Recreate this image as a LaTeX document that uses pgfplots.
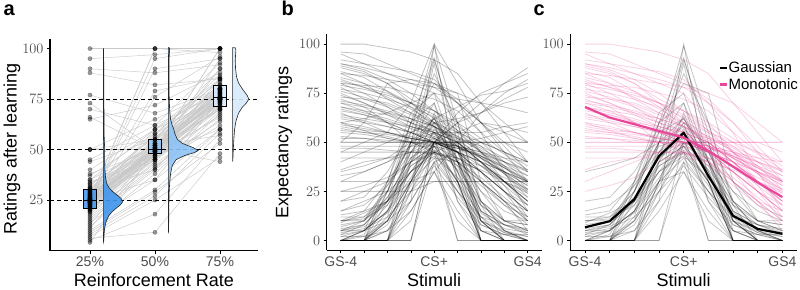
\documentclass[border=0pt]{standalone}
\usepackage{fontspec}
\setmainfont{Liberation Sans}
\usepackage{pgfplots}
\usepackage{pgfplotstable}
\pgfplotsset{compat=1.18}

\definecolor{rateA}{HTML}{3F95EB}
\definecolor{rateB}{HTML}{8CC2F5}
\definecolor{rateC}{HTML}{D6EAFC}
\definecolor{ticktext}{HTML}{4D4D4D}
\definecolor{mono}{HTML}{E8479A}
\definecolor{pairline}{HTML}{C9C9C9}

% ratings after learning, one row per participant
\pgfplotstableread{
r25 r50 r75
25 50 75
24 50 75
26 49 76
20 45 70
30 55 80
22 48 74
28 52 78
25 51 77
18 44 72
32 56 82
15 40 65
35 60 85
12 38 68
27 50 90
23 47 95
25 50 100
10 30 60
8 27 58
5 18 55
6 9 48
100 100 100
95 97 100
90 88 92
88 82 85
77 68 80
73 50 75
70 62 78
66 50 70
65 72 88
50 50 75
50 65 80
50 55 90
44 55 85
40 60 80
38 50 76
34 45 74
33 53 79
31 52 73
29 49 71
21 46 67
19 43 64
17 42 62
14 35 60
13 50 75
11 48 70
9 29 53
7 25 46
25 100 100
24 90 95
26 79 86
22 76 96
28 50 44
30 40 75
20 50 80
25 35 75
23 53 77
27 47 73
26 51 83
24 49 79
21 50 76
29 54 81
31 57 87
16 41 69
25 60 75
25 45 75
20 48 66
30 50 72
35 52 78
37 58 84
45 62 93
4 50 75
24 95 100
26 100 98
23 50 100
27 48 60
22 52 57
28 46 85
24 51 74
25 49 76
26 50 79
21 47 71
29 53 80
23 52 77
27 48 73
25 55 75
24 45 82
26 58 75
19 50 75
31 50 75
33 50 70
22 50 78
28 49 80
25 50 74
24 51 76
}\ratings

% generalization profiles GS-4 ... CS+ ... GS4, one row per participant
\pgfplotstableread{
g0 g1 g2 g3 g4 g5 g6 g7 g8
0 0 0 30 50 30 0 0 0
0 0 10 40 60 20 0 0 0
5 8 20 45 55 35 10 5 2
10 12 25 50 70 40 15 8 5
0 0 0 20 100 30 0 0 0
0 5 15 35 45 25 10 0 0
13 15 30 48 52 45 20 10 8
0 0 20 60 93 50 10 0 0
2 5 18 40 48 30 8 3 0
8 10 22 42 50 38 15 8 4
0 0 0 0 40 0 0 0 0
0 0 10 30 35 15 0 0 0
20 22 35 55 62 45 25 15 10
0 3 25 55 99 60 20 5 0
5 5 15 38 45 28 5 0 0
0 0 5 25 50 50 5 0 0
10 10 25 60 80 75 30 10 5
3 8 20 35 52 20 5 3 3
0 0 0 40 90 40 0 0 0
35 38 42 50 58 40 25 10 5
0 0 15 45 63 32 12 0 0
7 10 28 50 55 40 18 8 3
0 0 30 60 70 30 0 0 0
12 12 20 40 48 36 20 10 8
0 2 10 30 42 25 12 4 0
6 8 22 42 53 35 14 6 4
0 0 0 50 92 55 10 0 0
4 6 12 25 38 22 8 3 0
0 5 30 65 75 40 15 5 0
9 14 20 38 46 30 12 8 6
0 0 0 0 50 50 0 0 0
0 0 0 25 45 0 0 0 0
2 2 5 20 40 25 5 0 0
0 0 12 50 85 60 18 0 0
15 18 28 45 60 48 30 18 12
0 0 0 30 65 35 0 0 0
3 5 15 32 50 45 20 5 0
0 0 8 28 48 30 0 0 0
10 11 18 35 43 32 18 10 10
0 0 25 50 62 40 10 0 0
5 7 14 30 57 42 10 4 2
0 0 0 15 35 10 0 0 0
}\gaussraw

\pgfplotstableread{
g0 g1 g2 g3 g4 g5 g6 g7 g8
100 100 98 96 92 85 70 55 40
95 90 85 80 75 60 45 30 20
90 88 85 82 78 70 60 48 35
88 85 80 70 60 50 40 30 20
85 80 72 65 58 50 40 25 10
82 78 75 70 62 52 42 30 22
80 75 68 60 55 45 30 20 10
78 72 70 65 60 55 50 45 40
75 70 65 60 52 45 35 25 15
73 72 68 62 55 50 40 30 20
72 68 60 55 50 45 35 20 5
70 68 65 62 58 52 48 42 35
68 65 62 58 55 50 42 35 28
66 64 60 55 50 48 40 30 18
65 60 58 55 50 45 40 35 30
62 60 55 52 50 48 45 40 35
60 58 55 52 50 50 50 50 50
58 56 55 52 50 45 38 30 25
55 54 52 50 50 48 45 42 40
52 52 50 50 50 50 50 50 50
50 50 50 50 50 45 40 35 30
50 50 50 50 50 50 50 50 45
48 48 48 48 48 45 40 30 20
45 45 45 45 45 42 35 25 15
36 40 42 45 45 40 30 20 10
30 35 40 45 50 45 35 25 15
25 28 32 40 45 38 28 18 8
85 84 82 80 78 75 70 60 50
92 90 88 86 82 70 55 35 15
77 75 72 68 63 55 45 35 25
70 66 60 50 45 40 30 20 15
64 62 60 58 55 50 40 28 12
57 55 53 50 48 42 35 25 18
80 79 78 75 72 66 55 45 38
86 83 76 68 58 48 38 28 18
60 56 52 50 46 40 32 22 12
74 70 64 58 54 48 42 34 26
68 66 64 60 56 52 46 38 30
96 95 90 85 80 72 60 45 30
89 86 80 72 66 58 50 40 30
83 80 76 70 64 56 48 38 26
79 77 74 70 66 60 52 44 36
71 69 66 62 58 53 47 40 33
63 61 58 55 52 48 43 37 30
56 55 54 52 50 47 43 38 33
53 52 51 50 49 47 44 40 36
47 47 46 45 44 42 38 32 26
42 42 42 42 42 40 36 30 24
90 87 82 75 66 56 45 34 22
76 73 69 64 58 51 43 34 24
67 64 61 57 53 48 42 35 28
81 78 73 67 60 53 45 37 29
59 57 55 53 50 47 43 37 31
}\monoraw

\pgfplotstableread{
g0 g1 g2 g3 g4 g5 g6 g7 g8
0 0 0 10 50 60 70 80 88
30 30 30 30 30 30 30 30 30
10 15 20 30 50 60 65 75 82
40 45 50 55 60 62 65 70 73
5 10 20 35 50 55 60 55 50
0 0 10 30 50 65 75 80 85
20 25 30 40 55 55 55 58 60
0 0 0 0 50 50 50 50 50
50 60 80 82 80 70 60 58 55
45 50 55 70 100 80 60 50 40
0 0 5 15 35 50 65 72 78
25 25 25 25 30 30 30 30 30
60 62 65 70 75 72 70 68 65
15 20 25 35 45 50 52 55 58
0 5 10 20 40 45 50 45 40
33 35 40 48 62 68 74 76 80
}\otherraw

\pgfplotstabletranspose\gausst{\gaussraw}
\pgfplotstabletranspose\monot{\monoraw}
\pgfplotstabletranspose\othert{\otherraw}

\pgfplotsset{
  panel/.style={
    scale only axis,
    anchor=south west,
    axis lines=left,
    axis line style={-, line width=1.1pt, black},
    tick style={line width=0.6pt, black},
    tick align=outside,
    major tick length=3pt,
    tick label style={font=\fontsize{14}{16}\selectfont, text=ticktext},
    label style={font=\fontsize{18}{20}\selectfont},
    clip=false,
  },
  stimpanel/.style={
    panel,
    xmin=-0.6, xmax=8.6, ymin=-5, ymax=105,
    xtick={0,...,8},
    xticklabels={GS-4,,,,CS+,,,,GS4},
    ytick={0,25,50,75,100},
    xlabel={Stimuli},
  },
  dot/.style={only marks, mark=*, mark size=2.1pt,
    mark options={fill=black, draw=none}, opacity=0.38},
  refline/.style={black, line width=0.8pt, dash pattern=on 4pt off 3pt},
  boxshape/.style={draw=black, line width=0.7pt, fill opacity=0.85},
  violin/.style={draw=black!85, line width=0.6pt, fill opacity=0.9},
}

\begin{document}
\begin{tikzpicture}[x=1pt,y=1pt]
\useasboundingbox (0,0) rectangle (800,289);

% ---------------- a: ratings by reinforcement rate ----------------
\begin{axis}[panel,
  at={(50pt,38.5pt)}, width=208pt, height=211pt,
  xmin=0.385, xmax=3.585, ymin=0, ymax=104.5,
  xtick={1,2,3}, xticklabels={25\%,50\%,75\%},
  ytick={25,50,75,100},
  xlabel={Reinforcement Rate},
  ylabel={Ratings after learning},
  ylabel style={at={(axis description cs:-0.183,0.48)}, anchor=center}]

\addplot[pairline, line width=0.45pt,
  quiver={u=1, v=\thisrow{r50}-\thisrow{r25}}]
  table[x expr=1, y=r25] {\ratings};
\addplot[pairline, line width=0.45pt,
  quiver={u=1, v=\thisrow{r75}-\thisrow{r50}}]
  table[x expr=2, y=r50] {\ratings};

\addplot[dot] table[x expr=1, y=r25] {\ratings};
\addplot[dot] table[x expr=2, y=r50] {\ratings};
\addplot[dot] table[x expr=3, y=r75] {\ratings};

% reference levels
\addplot[refline] coordinates {(0.385,25) (3.585,25)};
\addplot[refline] coordinates {(0.385,50) (3.585,50)};
\addplot[refline] coordinates {(0.385,75) (3.585,75)};

% interquartile boxes and medians
\addplot[boxshape, fill=rateA] coordinates {(0.895,21) (1.105,21) (1.105,30.5) (0.895,30.5)} -- cycle;
\addplot[black, line width=1pt] coordinates {(0.895,25) (1.105,25)};
\addplot[boxshape, fill=rateB] coordinates {(1.895,48) (2.105,48) (2.105,55) (1.895,55)} -- cycle;
\addplot[black, line width=1pt] coordinates {(1.895,50) (2.105,50)};
\addplot[boxshape, fill=rateC] coordinates {(2.895,71.5) (3.105,71.5) (3.105,82) (2.895,82)} -- cycle;
\addplot[black, line width=1pt] coordinates {(2.895,76) (3.105,76)};

% half violins
\addplot[violin, fill=rateA] coordinates {
(1.205,4) (1.213,5) (1.217,8) (1.225,11) (1.245,14) (1.285,17) (1.335,19)
(1.405,21) (1.465,22.5) (1.500,24) (1.485,25.5) (1.435,27) (1.355,29)
(1.295,31) (1.260,33) (1.240,36) (1.230,40) (1.225,45) (1.227,50)
(1.220,55) (1.215,60) (1.217,65) (1.215,70) (1.212,78) (1.212,88)
(1.211,95) (1.209,100) (1.205,100)} -- cycle;
\addplot[violin, fill=rateB] coordinates {
(2.205,8.5) (2.210,10) (2.213,20) (2.217,28) (2.225,33) (2.240,38)
(2.265,42) (2.325,45) (2.455,47) (2.605,48.5) (2.665,49.5) (2.585,51)
(2.425,53) (2.345,55) (2.305,58) (2.290,60) (2.265,62) (2.240,65)
(2.225,70) (2.217,78) (2.215,86) (2.215,93) (2.220,97) (2.225,99)
(2.223,100.3) (2.205,100.5)} -- cycle;
\addplot[violin, fill=rateC] coordinates {
(3.195,44) (3.200,46) (3.205,50) (3.213,55) (3.225,60) (3.245,64)
(3.285,68) (3.345,71) (3.405,73) (3.445,75) (3.415,77) (3.345,80)
(3.285,83) (3.255,86) (3.240,90) (3.235,94) (3.240,97) (3.245,99)
(3.240,100.3) (3.195,100.5)} -- cycle;
\end{axis}

% ---------------- b: all generalization profiles ----------------
\begin{axis}[stimpanel,
  at={(326.7pt,38.7pt)}, width=215pt, height=216pt,
  ylabel={Expectancy ratings},
  ylabel style={at={(axis description cs:-0.2,0.5)}, anchor=center}]
\pgfplotsinvokeforeach{1,...,16}{
  \addplot[black, opacity=0.24, line width=0.8pt] table[x expr=\coordindex, y index=#1] {\othert};
}
\pgfplotsinvokeforeach{1,...,42}{
  \addplot[black, opacity=0.24, line width=0.8pt] table[x expr=\coordindex, y index=#1] {\gausst};
}
\pgfplotsinvokeforeach{1,...,53}{
  \addplot[black, opacity=0.24, line width=0.8pt] table[x expr=\coordindex, y index=#1] {\monot};
}
\end{axis}

% ---------------- c: profiles by model class ----------------
\begin{axis}[stimpanel,
  at={(570.2pt,38.7pt)}, width=227pt, height=216pt,
  legend style={draw=none, fill=none, at={(axis cs:5.4,91.5)}, anchor=north west,
    font=\fontsize{15}{18}\selectfont, row sep=2pt,
    inner sep=0pt, nodes={inner sep=1pt}},
  legend cell align=left,
  legend image code/.code={\draw[#1, line width=2.2pt] (0pt,0pt) -- (7pt,0pt);}]
\pgfplotsinvokeforeach{1,...,42}{
  \addplot[black, opacity=0.22, line width=0.8pt, forget plot] table[x expr=\coordindex, y index=#1] {\gausst};
}
\pgfplotsinvokeforeach{1,...,53}{
  \addplot[mono, opacity=0.25, line width=0.8pt, forget plot] table[x expr=\coordindex, y index=#1] {\monot};
}
\addplot[black, line width=2.2pt] coordinates {
(0,6.7) (1,9.8) (2,21) (3,43) (4,54.8) (5,32.9) (6,12.6) (7,5.9) (8,3.4)};
\addlegendentry{Gaussian}
\addplot[mono, line width=2.2pt] coordinates {
(0,68) (1,62.6) (2,59.2) (3,55.8) (4,52.4) (5,45.7) (6,37.6) (7,29.5) (8,22.1)};
\addlegendentry{Monotonic}
\end{axis}

\node[anchor=base west, font=\bfseries\fontsize{20}{22}\selectfont] at (0pt,273pt) {a};
\node[anchor=base west, font=\bfseries\fontsize{20}{22}\selectfont] at (278pt,273pt) {b};
\node[anchor=base west, font=\bfseries\fontsize{20}{22}\selectfont] at (530pt,273pt) {c};
\end{tikzpicture}
\end{document}
